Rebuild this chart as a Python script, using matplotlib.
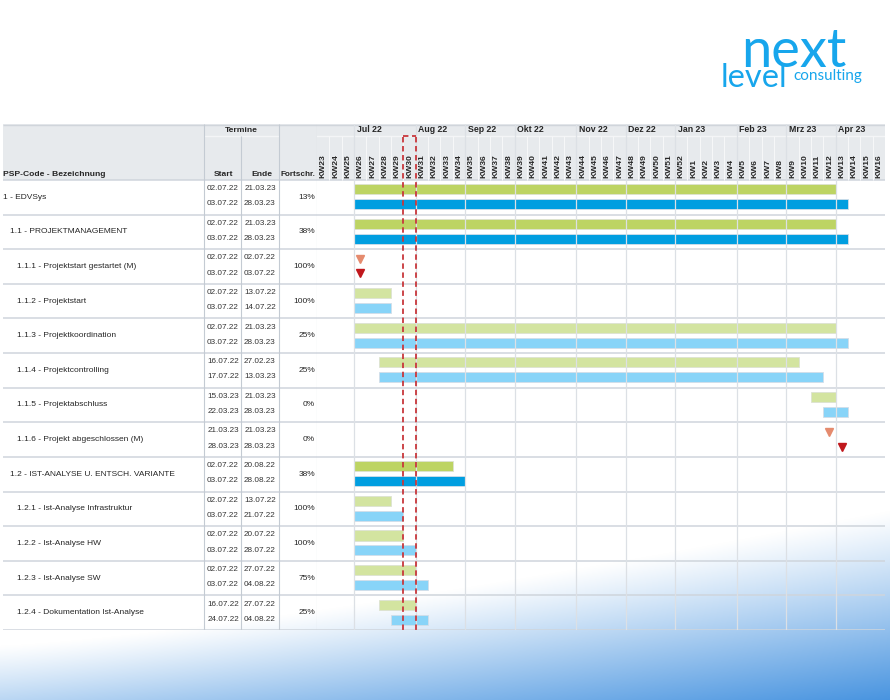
import datetime as dt
import numpy as np
import matplotlib
matplotlib.use("Agg")
import matplotlib.pyplot as plt
import matplotlib.dates as mdates

plt.rcParams['font.family'] = ['Liberation Sans', 'DejaVu Sans']

# ---- data ----
tasks = [
    "1 - EDVSys",
    "1.1 - PROJEKTMANAGEMENT",
    "1.1.1 - Projektstart gestartet (M)",
    "1.1.2 - Projektstart",
    "1.1.3 - Projektkoordination",
    "1.1.4 - Projektcontrolling",
    "1.1.5 - Projektabschluss",
    "1.1.6 - Projekt abgeschlossen (M)",
    "1.2 - IST-ANALYSE U. ENTSCH. VARIANTE",
    "1.2.1 - Ist-Analyse Infrastruktur",
    "1.2.2 - Ist-Analyse HW",
    "1.2.3 - Ist-Analyse SW",
    "1.2.4 - Dokumentation Ist-Analyse",
]
levels = [0, 1, 2, 2, 2, 2, 2, 2, 1, 2, 2, 2, 2]
plan_start = ["02.07.22", "02.07.22", "02.07.22", "02.07.22", "02.07.22", "16.07.22", "15.03.23",
              "21.03.23", "02.07.22", "02.07.22", "02.07.22", "02.07.22", "16.07.22"]
plan_end = ["21.03.23", "21.03.23", "02.07.22", "13.07.22", "21.03.23", "27.02.23", "21.03.23",
            "21.03.23", "20.08.22", "13.07.22", "20.07.22", "27.07.22", "27.07.22"]
act_start = ["03.07.22", "03.07.22", "03.07.22", "03.07.22", "03.07.22", "17.07.22", "22.03.23",
             "28.03.23", "03.07.22", "03.07.22", "03.07.22", "03.07.22", "24.07.22"]
act_end = ["28.03.23", "28.03.23", "03.07.22", "14.07.22", "28.03.23", "13.03.23", "28.03.23",
           "28.03.23", "28.08.22", "21.07.22", "28.07.22", "04.08.22", "04.08.22"]
progress = [13, 38, 100, 100, 25, 25, 0, 0, 38, 100, 100, 75, 25]
milestone = [False, False, True, False, False, False, False, True, False, False, False, False, False]

week_numbers = list(range(23, 53)) + list(range(1, 17))
first_monday = "06.06.22"      # Monday of KW23
months = ["Jul 22", "Aug 22", "Sep 22", "Okt 22", "Nov 22", "Dez 22",
          "Jan 23", "Feb 23", "Mrz 23", "Apr 23"]
month_firsts = ["01.07.22", "01.08.22", "01.09.22", "01.10.22", "01.11.22", "01.12.22",
                "01.01.23", "01.02.23", "01.03.23", "01.04.23"]
today = "25.07.22"             # KW30


def d(s):
    return dt.datetime.strptime(s, "%d.%m.%y")


def monday(x):
    return x - dt.timedelta(days=x.weekday())


# ---- layout in pixels ----
W, H = 890, 700
TOP, HEAD, BOTTOM = 124, 180, 630
ROW = (BOTTOM - HEAD) / len(tasks)
DAY_PX = 12.35 / 7


def prow(py):
    return (py - HEAD) / ROW


def box(x0, y0, x1, y1):
    return [x0 / W, 1 - y1 / H, (x1 - x0) / W, (y1 - y0) / H]


fig = plt.figure(figsize=(8.9, 7), dpi=100)

# background gradient (white top-left, blue towards the bottom right)
bg = fig.add_axes([0, 0, 1, 1])
yy, xx = np.mgrid[0:H, 0:W]
xf = xx / W
edge = 645 - 135 * xf ** 1.3
t = np.clip((yy - edge) / (H - edge), 0, 1) ** 1.1 * (0.38 + 0.62 * xf)
blue = np.array([72, 148, 224]) / 255
img = 1 - t[..., None] * (1 - blue)
bg.imshow(img, extent=(0, W, H, 0), aspect='auto')
bg.set_xlim(0, W)
bg.set_ylim(H, 0)
bg.axis('off')

# logo
logo = '#17A6EC'
fig.text(741 / W, 1 - 67 / H, "next", fontsize=39, color=logo, family='Lato', va='baseline')
fig.text(721 / W, 1 - 87 / H, "level", fontsize=23.5, color=logo, family='Lato', va='baseline')
fig.text(793 / W, 1 - 80 / H, "consulting", fontsize=11, color=logo, family='Lato', va='baseline')

# table axes (left) and timeline axes (right)
tbl = fig.add_axes(box(0, TOP, 317, BOTTOM))
tbl.set_xlim(0, 317)
tbl.set_ylim(len(tasks), prow(TOP))
tbl.axis('off')

x_start = monday(d(first_monday))
x_end = x_start + dt.timedelta(weeks=len(week_numbers))
tl = fig.add_axes(box(317, TOP, 885, BOTTOM))
tl.set_xlim(mdates.date2num(x_start), mdates.date2num(x_end))
tl.set_ylim(len(tasks), prow(TOP))
tl.axis('off')

hdr_col = '#E7EAED'
line_col = '#CFD5DC'
vline_col = '#C4CBD3'
txt_col = '#262626'

# header backgrounds
tbl.axhspan(prow(TOP), 0, xmin=3 / 317, color=hdr_col, lw=0)
tl.axhspan(prow(TOP), 0, color=hdr_col, lw=0)
tbl.hlines(prow(TOP) + 0.02, 3, 317, color='#D0D5DB', lw=1)
tl.axhline(prow(TOP) + 0.02, color='#D0D5DB', lw=1)
tbl.hlines(prow(136), 204, 279, color='#F4F5F7', lw=1)
tl.axhline(prow(136), color='#F4F5F7', lw=1)

# header texts
hfs = 6.1
tbl.text(3, prow(175), "PSP-Code - Bezeichnung", fontsize=hfs, weight='bold', va='center', color=txt_col)
tbl.text(241.5, prow(130), "Termine", fontsize=hfs, weight='bold', ha='center', va='center', color=txt_col)
tbl.text(224, prow(175), "Start", fontsize=hfs, weight='bold', ha='center', va='center', color=txt_col)
tbl.text(262, prow(175), "Ende", fontsize=hfs, weight='bold', ha='center', va='center', color=txt_col)
tbl.text(298, prow(175), "Fortschr.", fontsize=5.9, weight='bold', ha='center', va='center', color=txt_col)

# table grid
tbl.hlines(range(0, len(tasks) + 1), 3, 317, color=line_col, lw=1.1)
tl.hlines(range(0, len(tasks) + 1), *tl.get_xlim(), color=line_col, lw=1.1)
for xv in (204, 279, 317):
    tbl.vlines(xv, prow(TOP), len(tasks), color=vline_col, lw=0.8)
tbl.vlines(241, prow(136), len(tasks), color=vline_col, lw=0.8)

# week columns in header
for k, wk in enumerate(week_numbers):
    ws = x_start + dt.timedelta(weeks=k)
    xn = mdates.date2num(ws)
    if k > 0:
        tl.vlines(xn, prow(136), 0, color='#F6F7F8', lw=0.8)
    tl.text(xn + 3.5, prow(178.5), f"KW{wk}", rotation=90, ha='center', va='bottom',
            fontsize=6.1, weight='bold', color=txt_col)

# month labels and body grid
for lab, mf in zip(months, month_firsts):
    xn = mdates.date2num(monday(d(mf)))
    tl.vlines(xn, prow(TOP), len(tasks), color='#DCE0E5', lw=0.9)
    tl.text(xn + 2.5 / DAY_PX, prow(130), lab, fontsize=6.3, weight='bold', va='center', color=txt_col)

# rows: texts, bars, milestones
sum_plan, sum_act = '#BDD463', '#009EE0'
leaf_plan, leaf_act = '#D3E4A0', '#88D4F8'
bar_h = 0.29
for i, name in enumerate(tasks):
    tbl.text(3 + 7 * levels[i], i + 0.5, name, fontsize=6, va='center', color=txt_col)
    tbl.text(223, i + 0.25, plan_start[i], fontsize=5.9, ha='center', va='center', color='#333333')
    tbl.text(260, i + 0.25, plan_end[i], fontsize=5.9, ha='center', va='center', color='#333333')
    tbl.text(223, i + 0.69, act_start[i], fontsize=5.9, ha='center', va='center', color='#333333')
    tbl.text(260, i + 0.69, act_end[i], fontsize=5.9, ha='center', va='center', color='#333333')
    tbl.text(315, i + 0.5, f"{progress[i]}%", fontsize=6, ha='right', va='center', color=txt_col)

    ps, pe = monday(d(plan_start[i])), monday(d(plan_end[i])) + dt.timedelta(days=7)
    as_, ae = monday(d(act_start[i])), monday(d(act_end[i])) + dt.timedelta(days=7)
    if milestone[i]:
        tl.plot(mdates.date2num(ps) + 3.5, i + 0.27, marker='v', ms=6, color='#E58B6E', mec='#E58B6E')
        tl.plot(mdates.date2num(as_) + 3.5, i + 0.70, marker='v', ms=6, color='#C0171C', mec='#C0171C')
        continue
    summary = levels[i] <= 1
    tl.barh(i + 0.27, (pe - ps).days, left=mdates.date2num(ps), height=bar_h,
            color=sum_plan if summary else leaf_plan, edgecolor='#DDE2D2', lw=0.6)
    tl.barh(i + 0.70, (ae - as_).days, left=mdates.date2num(as_), height=bar_h,
            color=sum_act if summary else leaf_act, edgecolor='#D3DEE8', lw=0.6)

# current week marker (dashed box)
t0 = mdates.date2num(monday(d(today)))
t1 = t0 + 7
dash = dict(color='#C8373C', lw=1.3, ls=(0, (3, 2)), zorder=5)
tl.plot([t0, t0], [prow(137), len(tasks)], **dash)
tl.plot([t1, t1], [prow(137), len(tasks)], **dash)
tl.plot([t0, t1], [prow(136), prow(136)], **dash)

fig.savefig("out.png", dpi=100)
